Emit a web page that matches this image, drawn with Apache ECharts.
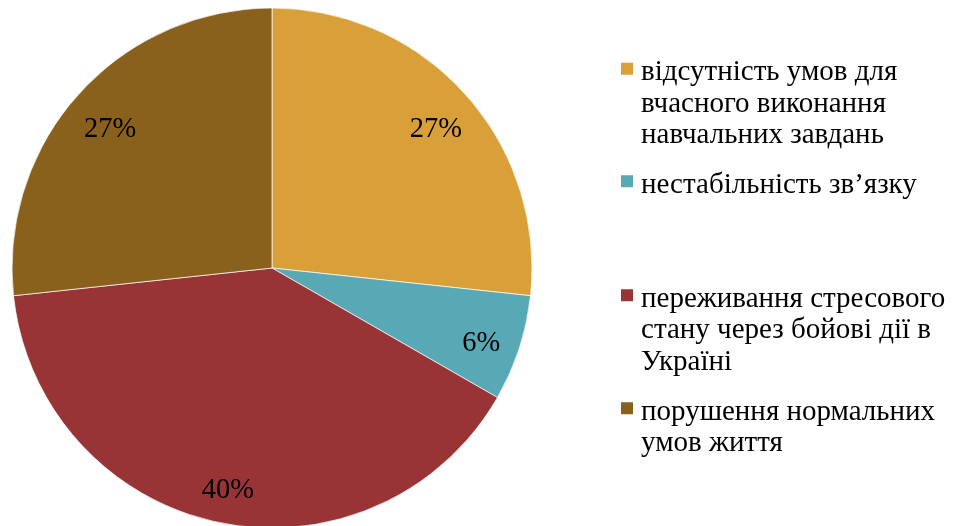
<!DOCTYPE html>
<html>
<head>
<meta charset="utf-8">
<script src="https://cdn.jsdelivr.net/npm/echarts@6/dist/echarts.min.js"></script>
<style>
  html, body { margin: 0; padding: 0; background: #fff; }
  #chart { width: 953px; height: 526px; }
</style>
</head>
<body>
<div id="chart"></div>
<script>
// категорії та значення (частки кола)
const names = [
  'відсутність умов для вчасного виконання навчальних завдань',
  'нестабільність зв’язку',
  'переживання стресового стану через бойові дії в Україні',
  'порушення нормальних умов життя'
]
const legendLines = [
  ['відсутність умов для', 'вчасного виконання', 'навчальних завдань'],
  ['нестабільність зв’язку'],
  ['переживання стресового', 'стану через бойові дії в', 'Україні'],
  ['порушення нормальних', 'умов життя']
]
const values = [26.7, 6.6, 40, 26.7]
const labels = ['27%', '6%', '40%', '27%']
const colors = ['#d9a03a', '#59a8b5', '#983336', '#8a601d']

const font = 'Liberation Serif, Times New Roman, serif'
const legendSize = 29
const lineH = 31.5
const markerCenters = [67.5, 180, 294, 407]
const markerLift = 4

const data = names.map((n, i) => ({ name: n, value: values[i] }))

// квадратик трохи вище центру рядка: невидима точка внизу розтягує значок
const markerIcon = 'path://M0,0h14v14h-14z M16,' + (14 + 2 * markerLift) + 'h0.01v0.01h-0.01z'

// маркер легенди стоїть навпроти першого рядка: зверху додаємо порожні рядки
const legends = names.map((n, i) => {
  const k = legendLines[i].length
  const blank = new Array(k - 1).fill('')
  return {
    data: [n],
    orient: 'vertical',
    left: 619,
    top: markerCenters[i] + markerLift - (k - 1) * lineH - legendSize / 2,
    padding: 0,
    icon: markerIcon,
    itemWidth: 16.01,
    itemHeight: 14.01 + 2 * markerLift,
    selectedMode: false,
    formatter: () => blank.concat(legendLines[i]).join('\n'),
    textStyle: {
      fontFamily: font,
      fontSize: legendSize,
      color: '#000',
      lineHeight: lineH
    }
  }
})

const option = {
  animation: false,
  color: colors,
  legend: legends,
  series: [
    {
      type: 'pie',
      center: [272, 268],
      radius: [0, 260],
      startAngle: 90,
      clockwise: true,
      silent: true,
      data: data,
      label: { show: false },
      labelLine: { show: false },
      itemStyle: { borderColor: '#fff', borderWidth: 0.7 }
    },
    {
      type: 'pie',
      center: [272, 268],
      radius: [172, 260],
      startAngle: 90,
      clockwise: true,
      silent: true,
      data: data,
      itemStyle: { color: 'transparent' },
      label: {
        show: true,
        position: 'inside',
        formatter: p => labels[p.dataIndex],
        fontFamily: font,
        fontSize: 28.5,
        color: '#000',
        offset: [1, 8]
      },
      labelLine: { show: false }
    }
  ]
}

const chart = echarts.init(document.getElementById('chart'))
chart.setOption(option)
</script>
</body>
</html>
